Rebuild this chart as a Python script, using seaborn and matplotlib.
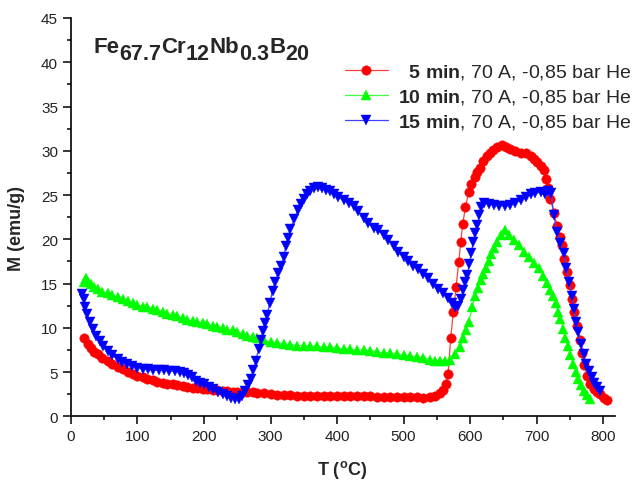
import matplotlib
matplotlib.use("Agg")
import matplotlib.pyplot as plt
from matplotlib.ticker import MultipleLocator
import numpy as np
import pandas as pd
import seaborn as sns

# ---- measured magnetisation vs temperature ----
T_5min = [20, 25, 30, 35, 40, 47, 55, 62, 70, 78, 85, 93, 100, 108, 115, 123, 130, 138,
          145, 153, 160, 168, 175, 183, 190, 198, 205, 213, 220, 228, 235, 243, 250, 258,
          265, 273, 280, 290, 300, 310, 320, 330, 340, 350, 360, 370, 380, 390, 400, 410,
          420, 430, 440, 450, 460, 470, 480, 490, 500, 510, 520, 530, 540, 548, 555, 560,
          564, 567, 571, 575, 579, 583, 586, 589, 593, 598, 602, 607, 611, 615, 620, 625,
          630, 635, 641, 648, 654, 660, 668, 676, 684, 691, 696, 701, 706, 711, 715, 718,
          721, 726, 731, 735, 738, 742, 746, 750, 753, 757, 761, 765, 768, 772, 776, 781,
          786, 791, 796, 801, 806]
M_5min = [8.8, 8.2, 7.7, 7.3, 7.0, 6.6, 6.2, 5.9, 5.6, 5.3, 5.05, 4.8, 4.6, 4.4, 4.2, 4.05,
          3.9, 3.8, 3.7, 3.6, 3.5, 3.4, 3.35, 3.25, 3.15, 3.1, 3.05, 3.0, 2.95, 2.9, 2.85,
          2.8, 2.8, 2.75, 2.7, 2.7, 2.65, 2.6, 2.5, 2.45, 2.4, 2.4, 2.35, 2.35, 2.3, 2.3,
          2.35, 2.3, 2.3, 2.35, 2.3, 2.3, 2.3, 2.25, 2.2, 2.2, 2.2, 2.2, 2.15, 2.2, 2.15,
          2.1, 2.2, 2.3, 2.6, 3.0, 3.6, 4.8, 8.9, 11.8, 14.6, 17.4, 19.7, 21.7, 23.6, 25.3,
          26.3, 27.0, 27.6, 28.1, 28.8, 29.4, 29.8, 30.1, 30.4, 30.6, 30.4, 30.2, 30.0, 29.8,
          29.7, 29.4, 29.1, 28.7, 28.3, 27.8, 26.8, 25.8, 24.6, 23.0, 21.5, 20.3, 19.3, 17.8,
          16.3, 14.8, 13.3, 11.8, 10.2, 8.6, 7.2, 5.8, 4.6, 3.7, 3.1, 2.8, 2.5, 2.1, 1.8]

T_10min = [20, 22, 25, 30, 35, 40, 47, 55, 62, 70, 78, 85, 93, 100, 108, 115, 123, 130, 138,
           145, 153, 160, 168, 175, 183, 190, 198, 205, 213, 220, 228, 235, 243, 250, 258,
           265, 273, 280, 290, 300, 310, 320, 330, 340, 350, 360, 370, 380, 390, 400, 410,
           420, 430, 440, 450, 460, 470, 480, 490, 500, 510, 520, 530, 540, 548, 555, 562,
           570, 578, 585, 590, 594, 598, 603, 608, 612, 616, 620, 624, 628, 632, 636, 641,
           647, 653, 659, 666, 673, 681, 688, 696, 703, 710, 716, 721, 725, 729, 733, 736,
           740, 743, 747, 751, 755, 759, 763, 767, 771, 776, 781]
M_10min = [15.2, 15.6, 15.2, 14.9, 14.6, 14.4, 14.1, 13.9, 13.7, 13.5, 13.2, 13.0, 12.8,
           12.6, 12.4, 12.3, 12.1, 12.0, 11.8, 11.6, 11.4, 11.3, 11.1, 10.9, 10.8, 10.7,
           10.5, 10.4, 10.2, 10.1, 10.0, 9.8, 9.7, 9.5, 9.3, 9.1, 9.0, 8.8, 8.6, 8.4, 8.3,
           8.2, 8.1, 8.0, 8.0, 7.9, 7.9, 7.8, 7.8, 7.7, 7.6, 7.6, 7.5, 7.5, 7.4, 7.3, 7.2,
           7.1, 7.0, 6.9, 6.8, 6.7, 6.6, 6.4, 6.3, 6.2, 6.2, 6.4, 7.0, 7.8, 8.8, 9.8, 10.6,
           12.3, 13.6, 14.5, 15.4, 16.1, 16.8, 17.5, 18.3, 19.0, 19.7, 20.5, 21.0, 20.5,
           19.9, 19.3, 18.6, 18.0, 17.3, 16.7, 15.9, 15.1, 14.3, 13.6, 12.8, 11.8, 11.0,
           9.9, 8.9, 7.9, 6.9, 5.9, 5.0, 4.2, 3.5, 2.9, 2.4, 2.0]

T_15min = [17, 19, 21, 24, 28, 33, 38, 43, 48, 55, 62, 70, 77, 84, 92, 100, 108, 116, 124,
           132, 140, 148, 156, 164, 170, 176, 182, 188, 194, 200, 207, 214, 221, 228, 235,
           241, 247, 252, 257, 262, 266, 270, 274, 278, 282, 285, 288, 291, 295, 299, 303,
           307, 312, 316, 320, 323, 326, 330, 336, 341, 346, 350, 355, 360, 366, 372, 378,
           384, 390, 396, 402, 410, 418, 425, 432, 440, 447, 455, 462, 470, 477, 485, 492,
           500, 507, 515, 522, 530, 537, 545, 552, 560, 567, 573, 578, 582, 586, 590, 593,
           596, 599, 602, 605, 608, 611, 614, 617, 621, 628, 636, 644, 652, 660, 668, 676,
           684, 691, 698, 706, 713, 718, 722, 726, 731, 736, 741, 745, 749, 753, 756, 760,
           763, 767, 771, 775, 779, 783, 787, 791, 795]
M_15min = [13.8, 13.3, 12.4, 11.6, 10.7, 9.9, 9.1, 8.5, 8.0, 7.4, 6.9, 6.5, 6.1, 5.9, 5.7,
           5.5, 5.4, 5.3, 5.2, 5.2, 5.2, 5.15, 5.1, 5.0, 4.9, 4.7, 4.4, 4.0, 3.8, 3.6, 3.35,
           3.1, 2.8, 2.55, 2.3, 2.1, 1.95, 2.0, 2.3, 2.9, 3.5, 4.2, 5.2, 6.3, 7.6, 8.6, 9.6,
           10.5, 11.5, 12.8, 14.2, 15.2, 16.2, 17.0, 18.0, 19.2, 20.2, 21.2, 22.3, 23.3, 24.0,
           24.6, 25.1, 25.5, 25.8, 25.9, 25.8, 25.6, 25.4, 25.1, 24.8, 24.4, 24.1, 23.8, 23.2,
           22.4, 21.8, 21.3, 21.0, 20.5, 19.9, 19.2, 18.6, 18.0, 17.5, 17.0, 16.6, 16.1, 15.6,
           15.0, 14.4, 13.9, 13.4, 12.8, 12.4, 12.5, 13.2, 14.3, 15.2, 16.0, 17.2, 18.5, 19.7,
           20.7, 21.6, 22.8, 23.6, 24.1, 24.0, 23.9, 23.8, 23.8, 23.9, 24.1, 24.4, 24.8, 25.1,
           25.2, 25.3, 25.1, 25.4, 25.2, 22.7, 20.8, 19.6, 18.4, 16.8, 15.2, 13.6, 12.1, 10.7,
           9.5, 8.2, 7.0, 5.9, 5.1, 4.4, 3.8, 3.3, 2.9]

series_labels = [r"  $\mathbf{5\ min}$, 70 A, -0,85 bar He",
                 r"$\mathbf{10\ min}$, 70 A, -0,85 bar He",
                 r"$\mathbf{15\ min}$, 70 A, -0,85 bar He"]

# ---- styling ----
sns.set_style("ticks")
plt.rcParams["font.family"] = ["Liberation Sans", "DejaVu Sans"]
plt.rcParams["mathtext.fontset"] = "custom"
plt.rcParams["mathtext.rm"] = "Liberation Sans"
plt.rcParams["mathtext.bf"] = "Liberation Sans:bold"
plt.rcParams["mathtext.it"] = "Liberation Sans:italic"

fig = plt.figure(figsize=(6.35, 4.81), dpi=100)
ax = fig.add_axes([0.1118, 0.1324, 0.8567, 0.8281])

styles = [
    dict(marker="o", line="#ff4040", face="#ff0000", ms=6.8),
    dict(marker="^", line="#40ff40", face="#00ff00", ms=7.6),
    dict(marker="v", line="#4040ff", face="#0000ff", ms=7.6),
]
data = [(T_5min, M_5min), (T_10min, M_10min), (T_15min, M_15min)]

handles = []
for (T, M), st, lab in zip(data, styles, series_labels):
    df = pd.DataFrame({"T": T, "M": M})
    sns.lineplot(data=df, x="T", y="M", ax=ax, sort=False, estimator=None,
                 color=st["line"], linewidth=0.9, marker=st["marker"],
                 markersize=st["ms"], markerfacecolor=st["face"],
                 markeredgecolor=st["face"], markeredgewidth=0.3, label=lab,
                 legend=False)
    handles.append(ax.lines[-1])

ax.set_xlim(0, 818)
ax.set_ylim(0, 45)
ax.xaxis.set_major_locator(MultipleLocator(100))
ax.xaxis.set_minor_locator(MultipleLocator(50))
ax.yaxis.set_major_locator(MultipleLocator(5))
ax.yaxis.set_minor_locator(MultipleLocator(2.5))
ax.tick_params(which="major", direction="out", length=5.8, width=1.1,
               labelsize=11, pad=3.5, color="black", labelcolor="#222222")
ax.tick_params(which="minor", direction="out", length=3.2, width=1.1, color="black")
for side in ("top", "right"):
    ax.spines[side].set_visible(False)
for side in ("left", "bottom"):
    ax.spines[side].set_linewidth(1.2)
    ax.spines[side].set_color("black")

ax.set_xlabel(r"T ($^{\mathbf{o}}$C)", fontsize=13, fontweight="bold")
ax.set_ylabel("M (emu/g)", fontsize=13, fontweight="bold")
ax.xaxis.set_label_coords(0.498, -0.105)
ax.yaxis.set_label_coords(-0.085, 0.475)

leg = ax.legend(handles=handles, labels=series_labels, loc="upper left",
                bbox_to_anchor=(345 / 635, 1 - 63 / 481),
                bbox_transform=fig.transFigure, frameon=False, fontsize=14,
                handlelength=2.2, handletextpad=0.5, labelspacing=0.32,
                borderpad=0, borderaxespad=0, numpoints=1)

# ---- alloy composition with subscripts, laid out piece by piece ----
pieces = [("Fe", False), ("67.7", True), ("Cr", False), ("12", True),
          ("Nb", False), ("0.3", True), ("B", False), ("20", True)]
fs_main = 16
fs_sub = 15.5
baseline_px = 481 - 53.0
drop_px = 7.0
renderer = fig.canvas.get_renderer()
x_px = 93.0
for txt, is_sub in pieces:
    y_px = baseline_px - (drop_px if is_sub else 0.0)
    t = fig.text(x_px / 635, y_px / 481, txt, fontsize=fs_sub if is_sub else fs_main,
                 fontweight="bold", va="baseline", ha="left")
    x_px = t.get_window_extent(renderer).x1

fig.savefig("out.png", dpi=100)
